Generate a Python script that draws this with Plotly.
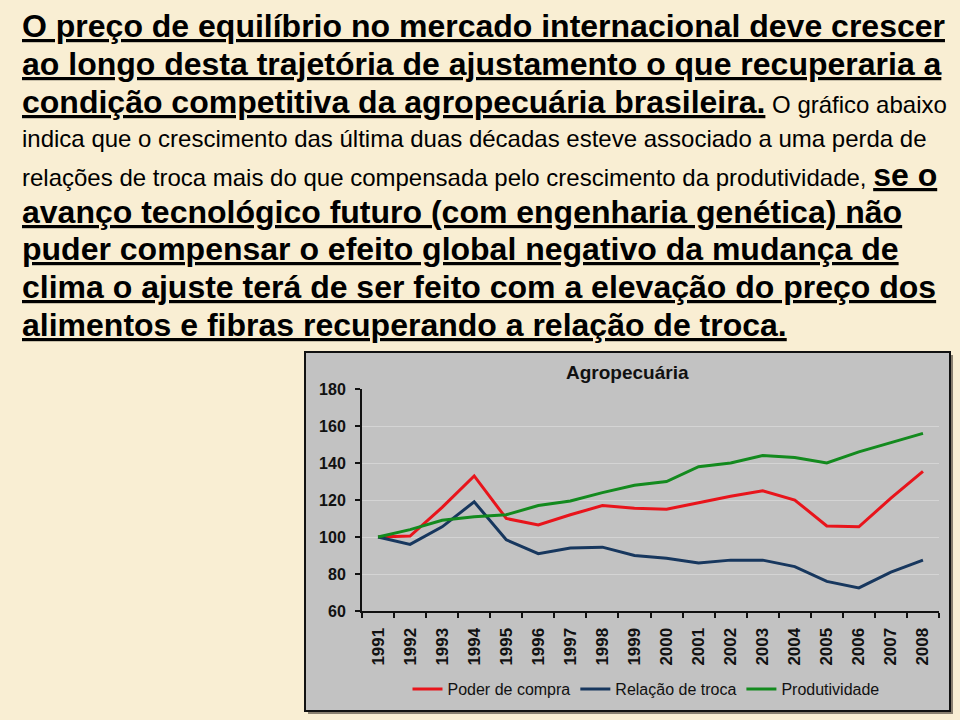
import plotly.graph_objects as go

ANOS = [str(a) for a in range(1991, 2009)]

poder_de_compra = [100, 100.5, 116, 133, 110, 106.5, 112, 117, 115.5, 115,
                   118.5, 122, 125, 120, 106, 105.5, 121, 135.5]
relacao_de_troca = [100, 96, 105.5, 119, 98.5, 91, 94, 94.5, 90, 88.5,
                    86, 87.5, 87.5, 84, 76, 72.5, 81, 87.5]
produtividade = [100, 104, 109, 111, 112, 117, 119.5, 124, 128, 130,
                 138, 140, 144, 143, 140, 146, 151, 156]

SERIES = [
    ("Poder de compra", poder_de_compra, "#E8141B"),
    ("Relação de troca", relacao_de_troca, "#17375E"),
    ("Produtividade", produtividade, "#138A1E"),
]

W, H = 960, 720
FONTE = "Liberation Sans, Arial, sans-serif"


def px_x(x):
    return x / W


def px_y(y):
    return 1 - y / H


fig = go.Figure()
for nome, valores, cor in SERIES:
    fig.add_trace(go.Scatter(
        x=ANOS, y=valores, name=nome, mode="lines",
        line=dict(color=cor, width=3),
    ))

# caixa cinza do gráfico (com sombra)
fig.add_shape(type="rect", xref="paper", yref="paper", layer="below",
              x0=px_x(308), x1=px_x(953), y0=px_y(714), y1=px_y(355),
              fillcolor="#8A8070", line=dict(width=0))
fig.add_shape(type="rect", xref="paper", yref="paper", layer="below",
              x0=px_x(305), x1=px_x(950), y0=px_y(711), y1=px_y(352),
              fillcolor="#C2C2C2", line=dict(color="#111111", width=2))

# texto do slide
NORMAL = "<span style='font-size:24px'>%s</span>"
linhas = [
    (26, "<b><u>O preço de equilíbrio no mercado internacional deve crescer</u></b>"),
    (64, "<b><u>ao longo desta trajetória de ajustamento o que recuperaria a</u></b>"),
    (102, "<b><u>condição competitiva da agropecuária brasileira.</u></b>"
          + NORMAL % " O gráfico abaixo"),
    (138, NORMAL % "indica que o crescimento das última duas décadas "
                   "esteve associado a uma perda de"),
    (175, NORMAL % "relações de troca mais do que compensada pelo "
                   "crescimento da produtividade, " + "<b><u>se o</u></b>"),
    (212, "<b><u>avanço tecnológico futuro (com engenharia genética) não</u></b>"),
    (249, "<b><u>puder compensar o efeito global negativo da mudança de</u></b>"),
    (287, "<b><u>clima o ajuste terá de ser feito com a elevação do preço dos</u></b>"),
    (325, "<b><u>alimentos e fibras recuperando a relação de troca.</u></b>"),
]
for y, txt in linhas:
    fig.add_annotation(text=txt, xref="paper", yref="paper",
                       x=px_x(20), y=px_y(y), xanchor="left", yanchor="middle",
                       showarrow=False, font=dict(family=FONTE, size=32, color="#000000"))

fig.add_annotation(text="<b>Agropecuária</b>", xref="paper", yref="paper",
                   x=px_x(627), y=px_y(372), xanchor="center", yanchor="middle",
                   showarrow=False, font=dict(family=FONTE, size=19, color="#111111"))

fig.update_layout(
    width=W, height=H,
    margin=dict(l=0, r=0, t=0, b=0, autoexpand=False),
    paper_bgcolor="#F9EED3",
    plot_bgcolor="#FFFFFF",
    font=dict(family=FONTE, color="#111111"),
    showlegend=True,
    legend=dict(orientation="h", x=px_x(646), y=px_y(689), xanchor="center",
                yanchor="middle", bgcolor="rgba(0,0,0,0)",
                font=dict(family=FONTE, size=16, color="#111111"),
                itemwidth=30, tracegroupgap=0),
    xaxis=dict(domain=[px_x(362), px_x(939)], type="category", range=[-0.5, 17.5],
               showline=True, linecolor="#111111", linewidth=2, mirror=False,
               ticks="outside", ticklen=5, tickcolor="#111111", tickwidth=2,
               tickson="boundaries", showgrid=False, tickangle=-90,
               ticklabelstandoff=8,
               tickfont=dict(family=FONTE, size=17, color="#111111", weight="bold")),
    yaxis=dict(domain=[px_y(611), px_y(389)], range=[60, 180], dtick=20,
               showline=True, linecolor="#111111", linewidth=2,
               ticks="outside", ticklen=5, tickcolor="#111111", tickwidth=2,
               ticklabelstandoff=6,
               showgrid=True, gridcolor="#D4D4D4", gridwidth=1, zeroline=False,
               tickfont=dict(family=FONTE, size=16, color="#111111", weight="bold")),
)

# a página não deve ter margem branca em volta da figura
fig.write_html("out.html", config={"responsive": False, "displayModeBar": False},
               post_script="document.body.style.margin = '0';")
